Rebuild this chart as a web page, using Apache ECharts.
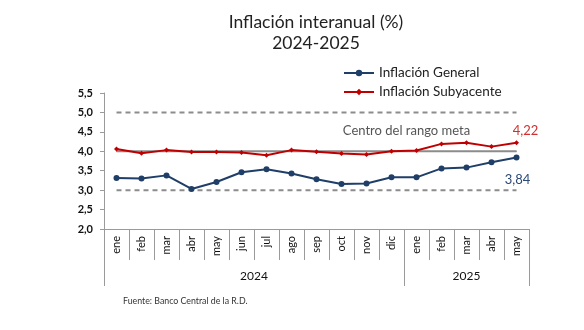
<!DOCTYPE html>
<html><head><meta charset="utf-8">
<script src="https://cdn.jsdelivr.net/npm/echarts@6/dist/echarts.min.js"></script>
<style>html,body{margin:0;padding:0;background:#fff}#c{width:584px;height:330px}</style>
</head><body><div id="c"></div>
<script>
const months = ['ene','feb','mar','abr','may','jun','jul','ago','sep','oct','nov','dic','ene','feb','mar','abr','may'];
const years = ['2024','2025'];
const yearSpans = [12, 5];
const general = [3.31,3.30,3.38,3.03,3.21,3.46,3.54,3.43,3.28,3.16,3.17,3.33,3.33,3.56,3.58,3.72,3.84];
const subyacente = [4.06,3.95,4.03,3.98,3.98,3.97,3.90,4.03,3.99,3.94,3.92,4.00,4.02,4.19,4.22,4.12,4.22];
const metaSup = months.map(()=>5.0);
const metaInf = months.map(()=>3.0);
const metaCentro = months.map(()=>4.0);
const yTicks = {min:2.0, max:5.5, step:0.5};

const FONT = 'Lato';
const fmt = v => v.toFixed(2).replace('.', ',');
const yearBounds = [0]; yearSpans.forEach(s => yearBounds.push(yearBounds[yearBounds.length-1] + s));
const yearCenters = yearSpans.map((s,i) => yearBounds[i] + s/2);

const chart = echarts.init(document.getElementById('c'), null, {renderer:'canvas'});
chart.setOption({
  animation:false,
  textStyle:{fontFamily:FONT},
  title:[
    {text:'Inflación interanual (%)\n2024-2025', left:311, textAlign:'center', top:7,
     textStyle:{fontFamily:FONT, fontSize:17.5, fontWeight:'normal', color:'#222', lineHeight:21}},
    {text:'Fuente: Banco Central de la R.D.', left:118, top:292,
     textStyle:{fontFamily:FONT, fontSize:8.8, fontWeight:'normal', color:'#333'}}
  ],
  legend:{
    data:['Inflación General','Inflación Subyacente'],
    orient:'vertical', left:338, top:61, itemWidth:30, itemHeight:8, itemGap:5,
    textStyle:{fontFamily:FONT, fontSize:13.5, color:'#222'}
  },
  grid:{left:104, right:55, top:93, bottom:101, containLabel:false},
  xAxis:[
    {type:'category', data:months, boundaryGap:true, position:'bottom',
     axisLine:{show:true, lineStyle:{color:'#9a9a9a', width:1}},
     axisTick:{show:true, interval:0, length:31, lineStyle:{color:'#9a9a9a'}},
     axisLabel:{interval:0, rotate:90, margin:7, fontSize:11, color:'#111', fontFamily:FONT},
     splitLine:{show:false}},
    {type:'value', min:0, max:yearBounds[yearBounds.length-1], position:'bottom', gridIndex:0,
     axisLine:{show:false},
     axisTick:{show:true, customValues:yearBounds, length:57, lineStyle:{color:'#9a9a9a'}},
     axisLabel:{customValues:yearCenters, margin:41, fontSize:12, color:'#111', fontFamily:FONT,
       formatter:(v)=>{const i = yearCenters.indexOf(v); return i>=0 ? years[i] : '';}},
     splitLine:{show:false}}
  ],
  yAxis:{type:'value', min:yTicks.min, max:yTicks.max, interval:yTicks.step,
    axisLine:{show:true, lineStyle:{color:'#9a9a9a'}},
    axisTick:{show:true, length:4, lineStyle:{color:'#9a9a9a'}},
    axisLabel:{margin:11, fontSize:11, fontWeight:'bold', color:'#111', fontFamily:FONT,
      formatter:v=>v.toFixed(1).replace('.', ',')},
    splitLine:{show:false}},
  series:[
    {name:'sup', type:'line', data:metaSup, symbol:'none', silent:true,
     lineStyle:{color:'#8c8c8c', width:2, type:[5,4]}},
    {name:'inf', type:'line', data:metaInf, symbol:'none', silent:true,
     lineStyle:{color:'#8c8c8c', width:2, type:[5,4]}},
    {name:'centro', type:'line', symbol:'circle', symbolSize:1, showSymbol:true, silent:true,
     itemStyle:{color:'#8c8c8c'},
     data:metaCentro.map((v,i)=> i===12 ? {value:v, label:{show:true, position:'top', distance:13, offset:[-10,0],
        formatter:'Centro del rango meta', fontSize:13, color:'#555', fontFamily:FONT}} : v),
     lineStyle:{color:'#8c8c8c', width:2}},
    {name:'Inflación Subyacente', type:'line', symbol:'diamond', symbolSize:5,
     data:subyacente.map((v,i)=> i===subyacente.length-1 ? {value:v, label:{show:true, position:'top', distance:3, offset:[9,0],
        formatter:p=>fmt(p.value), fontSize:13, color:'#d03030', fontFamily:FONT}} : v),
     itemStyle:{color:'#c00000'}, lineStyle:{color:'#c00000', width:2}},
    {name:'Inflación General', type:'line', symbol:'circle', symbolSize:6,
     data:general.map((v,i)=> i===general.length-1 ? {value:v, label:{show:true, position:'bottom', distance:13, offset:[1,0],
        formatter:p=>fmt(p.value), fontSize:13, color:'#2b4a75', fontFamily:FONT}} : v),
     itemStyle:{color:'#1f3e68'}, lineStyle:{color:'#1f3e68', width:2}}
  ]
});
</script>
</body></html>
